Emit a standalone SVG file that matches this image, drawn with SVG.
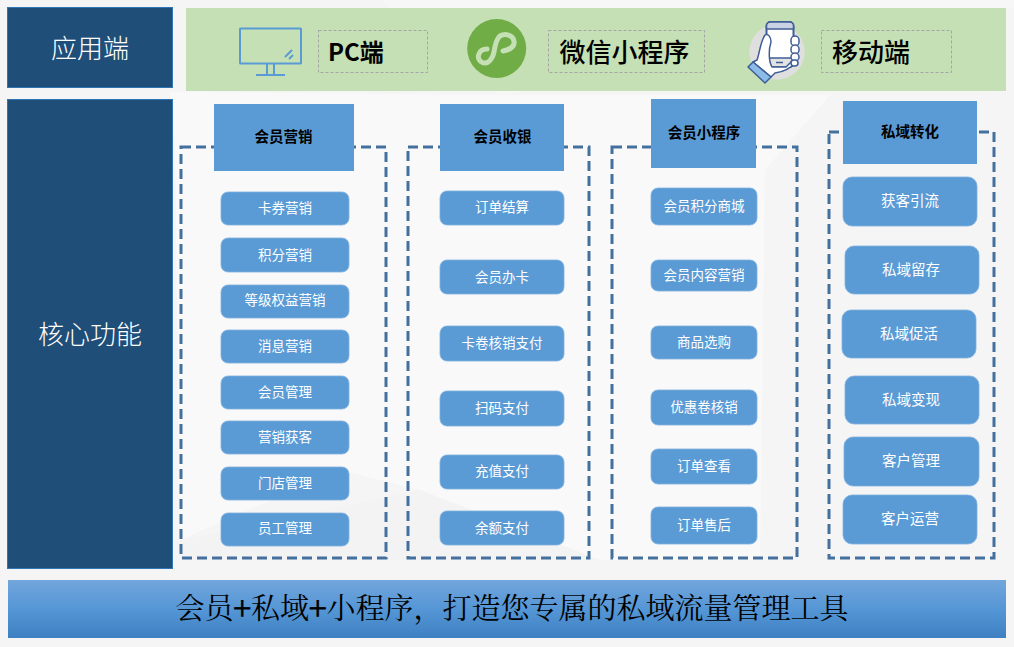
<svg xmlns="http://www.w3.org/2000/svg" width="1014" height="647" viewBox="0 0 1014 647">
<style>
text{font-family:"Noto Sans CJK SC","Noto Sans",sans-serif;text-anchor:middle;dominant-baseline:central}
.side{fill:#1F4E79;stroke:#2E75B6;stroke-width:1}
.side-t{fill:#fff;font-size:26px;font-weight:300}
.lbl{fill:none;stroke:#A5A5A5;stroke-width:1;stroke-dasharray:3 2}
.lbl-t{fill:#000;font-size:26px;font-weight:500}
.group{fill:none;stroke:#44709D;stroke-width:3;stroke-dasharray:10 5}
.head{fill:#5B9BD5}
.head-t{fill:#000;font-size:14.5px;font-weight:700}
.pill{fill:#5B9BD5;stroke:#7FB0DE;stroke-width:.8}
.pill-t{fill:#fff;font-size:13.5px}
.big{font-size:14.5px}
</style>
<defs>
<linearGradient id="bar" x1="0" y1="0" x2="0" y2="1"><stop offset="0" stop-color="#72A6DC"/><stop offset=".5" stop-color="#5596D6"/><stop offset="1" stop-color="#3F80C2"/></linearGradient>
</defs>
<g id="background">
<rect width="1014" height="647" fill="#F5F5F6"/>
<polygon points="170,92 500,95 290,205 175,150" fill="#F9F9FA"/>
<polygon points="500,95 830,95 765,170 760,560 600,560 420,490 340,470 180,540 175,150 290,205" fill="#F9F9F9"/>
<polygon points="180,540 420,490 600,560 180,560" fill="#F3F3F4"/>
<polygon points="380,0 1014,0 1014,8 500,95" fill="#F7F7F8"/>
</g>
<g id="connectors"></g>
<g id="app-side"><rect class="side" x="7.5" y="7.5" width="165" height="80"/><text class="side-t" x="90" y="46">应用端</text></g>
<g id="core-side"><rect class="side" x="7.5" y="99.5" width="165" height="469"/><text class="side-t" x="90" y="332">核心功能</text></g>
<g id="app-band"><rect x="186" y="8" width="820" height="83" fill="#C5E0B4"/></g>
<g id="pc-icon" fill="none" stroke="#5B9BD5" stroke-width="2">
<rect x="240" y="28.500" width="61" height="35" rx=".5"/>
<path d="M267 64v10M274 64v10M256 75h29"/>
<path d="M285 57l7-7M289 59l4-4"/>
</g>
<g id="pc-label"><rect class="lbl" x="318.500" y="30.500" width="109" height="42"/><text class="lbl-t" x="356" y="50" style="font-weight:700;font-size:24px">PC端</text></g>
<g id="wechat-icon">
<circle cx="496.700" cy="48.500" r="29.500" fill="#70AD47"/>
<path d="M503 51C510 50 515 46 514 41C513 35 505 33 500 36C496 39 495 46 494 52C493 58 489 63 485 63C480 63 477 58 479 54C480 51 483 49 487 49" fill="none" stroke="#C5E0B4" stroke-width="5" stroke-linecap="round"/>
</g>
<g id="wechat-label"><rect class="lbl" x="548.500" y="30.500" width="156" height="42"/><text class="lbl-t" x="624.500" y="50">微信小程序</text></g>
<g id="mobile-icon">
<circle cx="777" cy="52" r="27.700" fill="#DFDFDF"/>
<rect x="766.500" y="22" width="27" height="45" rx="4" fill="#fff" stroke="#3F5E96" stroke-width="2"/>
<path d="M766.500 29v-3a4 4 0 0 1 4-4h19a4 4 0 0 1 4 4v3z" fill="#C9D2E4" stroke="#3F5E96" stroke-width="1.500"/>
<path d="M766.500 58h27v5a4 4 0 0 1-4 4h-19a4 4 0 0 1-4-4z" fill="#E3E3E3" stroke="#3F5E96" stroke-width="1.500"/>
<path d="M776 62.500h7" stroke="#3F5E96" stroke-width="1.500"/>
<path d="M765 35C760 42 760 52 757 60L753 62L771 77L775 73C783 72 790 69 796 62L793 60L786 67L772 67C768 60 769 48 771 42C771 37 768 33 765 35Z" fill="#fff" stroke="#3F5E96" stroke-width="1.500" stroke-linejoin="round"/>
<path d="M753 62L748 67L765 83L771 77Z" fill="#8DBBE8" stroke="#3F5E96" stroke-width="1.500" stroke-linejoin="round"/>
<g fill="#fff" stroke="#3F5E96" stroke-width="1.500"><rect x="791" y="36" width="8" height="10" rx="4"/><rect x="791" y="45" width="8" height="9" rx="4"/><rect x="791" y="53" width="8" height="8" rx="4"/><rect x="791" y="60" width="7" height="6" rx="3"/></g>
</g>
<g id="mobile-label"><rect class="lbl" x="821.500" y="30.500" width="130" height="42"/><text class="lbl-t" x="871" y="50">移动端</text></g>

<g id="group-1"><rect class="group" x="181" y="147" width="205" height="411"/></g>
<g id="group-2"><rect class="group" x="408" y="147" width="181" height="411"/></g>
<g id="group-3"><rect class="group" x="612" y="147" width="185" height="411"/></g>
<g id="group-4"><rect class="group" x="829" y="132" width="165" height="426"/></g>

<g id="head-1"><rect class="head" x="214" y="104" width="140" height="67"/><text class="head-t" x="283.500" y="135.500">会员营销</text></g>
<g id="head-2"><rect class="head" x="440" y="104" width="124" height="67"/><text class="head-t" x="502.500" y="135.500">会员收银</text></g>
<g id="head-3"><rect class="head" x="651" y="99" width="105" height="69"/><text class="head-t" x="704" y="131.500">会员小程序</text></g>
<g id="head-4"><rect class="head" x="843" y="101" width="134" height="63"/><text class="head-t" x="910" y="130.500">私域转化</text></g>

<g id="n-1-1"><rect class="pill" x="221" y="192" width="128" height="33" rx="7"/><text class="pill-t" x="285" y="207">卡券营销</text></g>
<g id="n-1-2"><rect class="pill" x="221" y="238" width="128" height="34" rx="7"/><text class="pill-t" x="285" y="254">积分营销</text></g>
<g id="n-1-3"><rect class="pill" x="221" y="285" width="128" height="33" rx="7"/><text class="pill-t" x="285" y="299">等级权益营销</text></g>
<g id="n-1-4"><rect class="pill" x="221" y="330" width="128" height="33" rx="7"/><text class="pill-t" x="285" y="345">消息营销</text></g>
<g id="n-1-5"><rect class="pill" x="221" y="376" width="128" height="33" rx="7"/><text class="pill-t" x="285" y="391">会员管理</text></g>
<g id="n-1-6"><rect class="pill" x="221" y="421" width="128" height="33" rx="7"/><text class="pill-t" x="285" y="436">营销获客</text></g>
<g id="n-1-7"><rect class="pill" x="221" y="467" width="128" height="33" rx="7"/><text class="pill-t" x="285" y="482">门店管理</text></g>
<g id="n-1-8"><rect class="pill" x="221" y="513" width="128" height="33" rx="7"/><text class="pill-t" x="285" y="527">员工管理</text></g>

<g id="n-2-1"><rect class="pill" x="440" y="191" width="124" height="34" rx="7"/><text class="pill-t" x="502" y="206">订单结算</text></g>
<g id="n-2-2"><rect class="pill" x="440" y="260" width="124" height="34" rx="7"/><text class="pill-t" x="502" y="276">会员办卡</text></g>
<g id="n-2-3"><rect class="pill" x="440" y="326" width="124" height="35" rx="7"/><text class="pill-t" x="502" y="342">卡卷核销支付</text></g>
<g id="n-2-4"><rect class="pill" x="440" y="391" width="124" height="35" rx="7"/><text class="pill-t" x="502" y="407">扫码支付</text></g>
<g id="n-2-5"><rect class="pill" x="440" y="455" width="124" height="34" rx="7"/><text class="pill-t" x="502" y="470">充值支付</text></g>
<g id="n-2-6"><rect class="pill" x="440" y="511" width="124" height="34" rx="7"/><text class="pill-t" x="502" y="527">余额支付</text></g>

<g id="n-3-1"><rect class="pill" x="651" y="188" width="106" height="37" rx="7"/><text class="pill-t" x="704" y="205">会员积分商城</text></g>
<g id="n-3-2"><rect class="pill" x="651" y="260" width="106" height="31" rx="7"/><text class="pill-t" x="704" y="274">会员内容营销</text></g>
<g id="n-3-3"><rect class="pill" x="651" y="326" width="106" height="33" rx="7"/><text class="pill-t" x="704" y="341">商品选购</text></g>
<g id="n-3-4"><rect class="pill" x="651" y="390" width="106" height="35" rx="7"/><text class="pill-t" x="704" y="406">优惠卷核销</text></g>
<g id="n-3-5"><rect class="pill" x="651" y="449" width="106" height="35" rx="7"/><text class="pill-t" x="704" y="465">订单查看</text></g>
<g id="n-3-6"><rect class="pill" x="651" y="507" width="106" height="37" rx="7"/><text class="pill-t" x="704" y="524">订单售后</text></g>

<g id="n-4-1"><rect class="pill" x="843" y="177" width="134" height="49" rx="9"/><text class="pill-t big" x="910" y="199">获客引流</text></g>
<g id="n-4-2"><rect class="pill" x="845" y="246" width="134" height="48" rx="9"/><text class="pill-t big" x="911" y="268">私域留存</text></g>
<g id="n-4-3"><rect class="pill" x="842" y="310" width="134" height="48" rx="9"/><text class="pill-t big" x="909" y="332">私域促活</text></g>
<g id="n-4-4"><rect class="pill" x="845" y="376" width="134" height="48" rx="9"/><text class="pill-t big" x="911" y="398">私域变现</text></g>
<g id="n-4-5"><rect class="pill" x="844" y="437" width="135" height="49" rx="9"/><text class="pill-t big" x="911" y="459">客户管理</text></g>
<g id="n-4-6"><rect class="pill" x="843" y="495" width="134" height="49" rx="9"/><text class="pill-t big" x="910" y="517">客户运营</text></g>

<g id="slogan"><rect x="8" y="580" width="998" height="58" fill="url(#bar)"/><text x="512" y="606" font-size="29" fill="#000" style="font-family:'Noto Serif CJK SC','Liberation Serif','Noto Sans CJK SC',serif">会员<tspan font-weight="700" stroke="#000" stroke-width=".8">+</tspan>私域<tspan font-weight="700" stroke="#000" stroke-width=".8">+</tspan>小程序，打造您专属的私域流量管理工具</text></g>
</svg>
